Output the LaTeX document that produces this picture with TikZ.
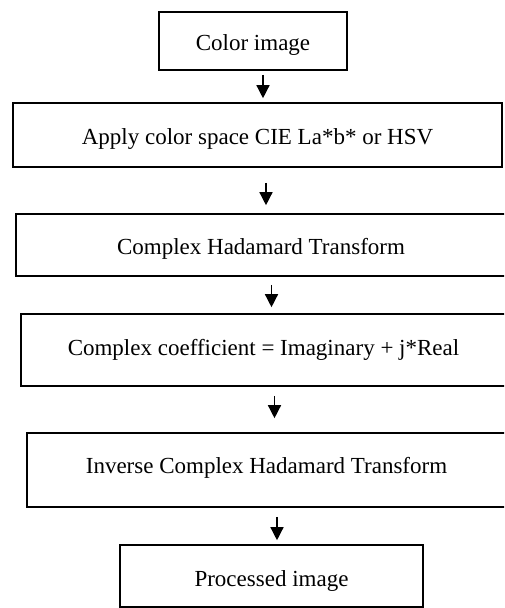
\documentclass[tikz,border=0pt]{standalone}
\usepackage{fontspec}
\setmainfont{Liberation Serif}
\usetikzlibrary{arrows.meta}
\newcommand{\txtshift}[2]{\raisebox{#1}[\height][\depth]{#2}}
\tikzset{
  box/.style={draw=black, line width=1.6pt, rectangle, inner sep=0pt, font=\fontsize{23}{27}\selectfont},
  arr/.style={line width=1.4pt, -{Triangle[width=13pt,length=13pt]}}
}
\begin{document}
\begin{tikzpicture}[x=1pt,y=-1pt]
\useasboundingbox (0,0) rectangle (504,608);
\clip (0,0) rectangle (504,608);
\node[box, minimum width=188pt, minimum height=58pt] (a) at (253,41) {\txtshift{-4pt}{Color image}};
\node[box, minimum width=489pt, minimum height=64pt] (b) at (257.5,135) {\txtshift{-4pt}{Apply color space CIE La*b* or HSV}};
\node[box, minimum width=490pt, minimum height=62pt] (c) at (261,245) {\txtshift{-4pt}{Complex Hadamard Transform}};
\node[box, minimum width=485pt, minimum height=72pt] (d) at (263.5,350) {Complex coefficient = Imaginary + j*Real};
\node[box, minimum width=479pt, minimum height=74pt] (e) at (266.5,470) {\txtshift{2pt}{Inverse Complex Hadamard Transform}};
\node[box, minimum width=303pt, minimum height=62pt] (f) at (271.5,576) {\txtshift{-5pt}{Processed image}};
\draw[arr] ([xshift=10pt,yshift=-4pt]a.south) -- ([xshift=5.5pt,yshift=4pt]b.north);
\draw[arr] ([xshift=8.5pt,yshift=-15pt]b.south) -- ([xshift=5pt,yshift=8pt]c.north);
\draw[arr] ([xshift=10.5pt,yshift=-8pt]c.south) -- ([xshift=8pt,yshift=6pt]d.north);
\draw[arr] ([xshift=11pt,yshift=-9pt]d.south) -- ([xshift=8pt,yshift=14pt]e.north);
\draw[arr] ([xshift=10.5pt,yshift=-9pt]e.south) -- ([xshift=5.5pt,yshift=4pt]f.north);
\end{tikzpicture}
\end{document}
